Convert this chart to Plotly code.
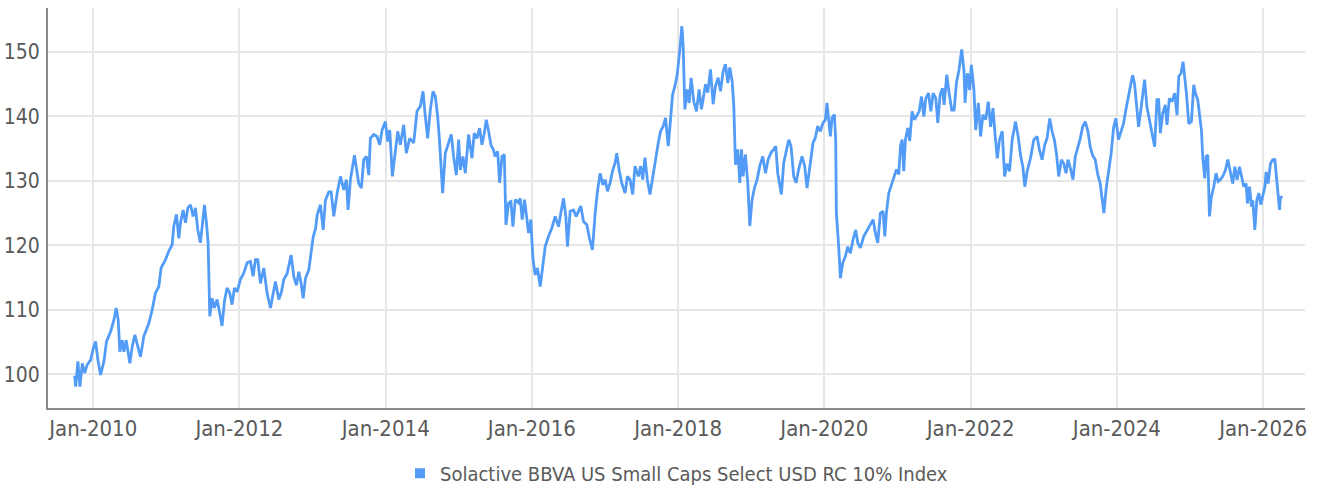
import plotly.graph_objects as go
from datetime import datetime, timedelta

# ---- Data (decimal year, index level) ----
t_2009_2012 = [2009.745, 2009.76, 2009.790, 2009.818, 2009.850, 2009.882, 2009.918, 2009.964, 2010.000, 2010.032,
               2010.064, 2010.100, 2010.146, 2010.182, 2010.237, 2010.282, 2010.314, 2010.342, 2010.364, 2010.396,
               2010.419, 2010.451, 2010.501, 2010.533, 2010.569, 2010.601, 2010.647, 2010.692, 2010.761, 2010.806,
               2010.852, 2010.897, 2010.929, 2010.989, 2011.034, 2011.080, 2011.103, 2011.139, 2011.171, 2011.194,
               2011.230, 2011.262, 2011.294, 2011.330, 2011.367, 2011.399, 2011.431, 2011.467, 2011.490, 2011.522,
               2011.549, 2011.572, 2011.595, 2011.626, 2011.658, 2011.695, 2011.731, 2011.763, 2011.795, 2011.831,
               2011.868, 2011.900, 2011.932, 2011.968, 2012.014, 2012.059, 2012.105, 2012.150, 2012.187, 2012.219,
               2012.251, 2012.287, 2012.333, 2012.378, 2012.424, 2012.460, 2012.492, 2012.538, 2012.574, 2012.606]
v_2009_2012 = [99.8, 98.1, 102.0, 98.1, 101.7, 100.2, 101.5, 102.2, 104.0, 105.1,
               102.2, 99.9, 102.0, 105.1, 106.6, 108.4, 110.3, 108.4, 103.5, 105.3,
               103.5, 105.3, 101.7, 104.3, 106.1, 104.6, 102.7, 105.9, 107.9, 110.0,
               112.6, 113.6, 116.5, 117.8, 119.1, 120.1, 123.0, 124.8, 121.1, 123.5,
               125.5, 123.5, 125.8, 126.3, 124.5, 125.8, 122.4, 120.4, 122.7, 126.3,
               123.5, 120.4, 109.0, 111.8, 110.3, 111.6, 109.5, 107.5, 111.3, 113.4,
               112.6, 110.8, 113.4, 112.8, 114.7, 115.7, 117.3, 117.5, 115.2, 117.8,
               117.8, 114.1, 116.5, 112.6, 110.3, 112.3, 114.4, 111.6, 112.8, 114.7]

t_2012_2015 = [2012.651, 2012.706, 2012.743, 2012.779, 2012.811, 2012.843, 2012.870, 2012.902, 2012.948, 2012.980,
               2013.007, 2013.039, 2013.062, 2013.107, 2013.144, 2013.175, 2013.221, 2013.253, 2013.289, 2013.335,
               2013.380, 2013.426, 2013.462, 2013.485, 2013.517, 2013.572, 2013.599, 2013.631, 2013.667, 2013.699,
               2013.736, 2013.768, 2013.790, 2013.836, 2013.882, 2013.918, 2013.950, 2013.995, 2014.027, 2014.055,
               2014.091, 2014.132, 2014.164, 2014.200, 2014.246, 2014.282, 2014.328, 2014.383, 2014.428, 2014.474,
               2014.510, 2014.542, 2014.574, 2014.610, 2014.647, 2014.679, 2014.711, 2014.738, 2014.779, 2014.815,
               2014.861, 2014.897, 2014.929, 2014.966, 2014.998, 2015.021, 2015.057, 2015.089, 2015.134, 2015.180,
               2015.212, 2015.248, 2015.285, 2015.317, 2015.349, 2015.376, 2015.408, 2015.440, 2015.476]
v_2012_2015 = [115.6, 118.5, 115.1, 113.8, 115.9, 114.1, 111.8, 114.9, 116.2, 119.0,
               121.3, 122.6, 124.7, 126.3, 122.4, 127.0, 128.3, 128.3, 124.5, 128.1,
               130.7, 128.6, 130.2, 125.5, 130.2, 134.0, 131.7, 129.6, 128.9, 133.3,
               133.8, 130.9, 136.6, 137.2, 136.9, 135.6, 137.9, 139.2, 136.1, 137.9,
               130.7, 134.8, 137.7, 135.6, 138.7, 134.3, 136.6, 135.9, 140.8, 141.6,
               143.9, 140.0, 136.6, 141.0, 143.9, 143.1, 140.0, 135.9, 128.1, 134.3,
               135.9, 137.2, 133.8, 130.9, 136.4, 131.7, 133.8, 131.2, 137.2, 133.5,
               137.4, 136.6, 138.2, 135.6, 137.4, 139.5, 137.7, 135.6, 134.8]

t_2015_2018 = [2015.495, 2015.532, 2015.559, 2015.591, 2015.623, 2015.645, 2015.682, 2015.714, 2015.741, 2015.773,
               2015.818, 2015.841, 2015.868, 2015.900, 2015.932, 2015.955, 2015.986, 2016.014, 2016.045, 2016.077,
               2016.114, 2016.150, 2016.182, 2016.227, 2016.273, 2016.318, 2016.364, 2016.395, 2016.432, 2016.464,
               2016.486, 2016.523, 2016.568, 2016.605, 2016.636, 2016.668, 2016.705, 2016.750, 2016.786, 2016.827,
               2016.864, 2016.895, 2016.932, 2016.968, 2017.000, 2017.032, 2017.068, 2017.105, 2017.136, 2017.159,
               2017.195, 2017.227, 2017.273, 2017.305, 2017.341, 2017.377, 2017.409, 2017.455, 2017.486, 2017.514,
               2017.545, 2017.577, 2017.614, 2017.659, 2017.695, 2017.727, 2017.759, 2017.795, 2017.827, 2017.864,
               2017.895, 2017.923, 2017.955, 2017.986, 2018.023, 2018.050, 2018.068, 2018.091, 2018.123, 2018.150,
               2018.177, 2018.214, 2018.250, 2018.286, 2018.318, 2018.364]
v_2015_2018 = [133.8, 134.6, 129.7, 133.8, 134.1, 123.2, 126.6, 126.8, 122.9, 127.1,
               126.6, 127.3, 124.0, 127.1, 124.5, 121.9, 124.0, 118.0, 115.4, 116.5,
               113.6, 117.3, 119.8, 121.4, 122.7, 124.5, 122.9, 125.0, 127.3, 124.5,
               119.8, 125.3, 125.5, 124.5, 125.3, 126.1, 123.7, 123.2, 121.1, 119.3,
               125.0, 128.4, 131.2, 129.4, 130.2, 128.4, 129.7, 131.7, 132.8, 134.3,
               131.5, 129.7, 128.1, 130.7, 130.2, 127.9, 132.3, 130.7, 132.3, 130.2,
               133.6, 130.2, 127.9, 131.2, 134.1, 135.9, 137.7, 138.5, 139.8, 135.4,
               139.5, 143.4, 144.7, 146.5, 150.4, 154.0, 150.9, 141.1, 144.2, 142.1,
               146.0, 142.3, 140.8, 144.2, 141.1, 144.7]

t_2018_2021 = [2018.374, 2018.405, 2018.442, 2018.478, 2018.510, 2018.547, 2018.579, 2018.615, 2018.647, 2018.679,
               2018.706, 2018.738, 2018.761, 2018.784, 2018.815, 2018.843, 2018.866, 2018.888, 2018.920, 2018.952,
               2018.980, 2019.011, 2019.043, 2019.080, 2019.116, 2019.157, 2019.194, 2019.230, 2019.271, 2019.308,
               2019.335, 2019.362, 2019.390, 2019.412, 2019.444, 2019.481, 2019.513, 2019.544, 2019.581, 2019.613,
               2019.649, 2019.695, 2019.731, 2019.763, 2019.800, 2019.845, 2019.877, 2019.909, 2019.945, 2019.982,
               2020.014, 2020.036, 2020.059, 2020.082, 2020.105, 2020.137, 2020.155, 2020.164, 2020.196, 2020.219,
               2020.251, 2020.287, 2020.319, 2020.355, 2020.392, 2020.428, 2020.456, 2020.492, 2020.538, 2020.583,
               2020.629, 2020.665, 2020.697, 2020.729, 2020.765, 2020.802, 2020.825, 2020.847, 2020.879, 2020.911,
               2020.948, 2020.984, 2021.016, 2021.039, 2021.062, 2021.084, 2021.107, 2021.139, 2021.166, 2021.198,
               2021.230]
v_2018_2021 = [145.0, 143.7, 147.3, 141.9, 144.7, 146.0, 143.9, 147.0, 148.1, 145.2,
               147.6, 145.5, 141.6, 132.5, 134.9, 129.7, 134.9, 130.7, 134.1, 129.7,
               123.0, 127.1, 128.9, 130.2, 132.3, 133.8, 131.2, 133.3, 134.4, 134.9,
               135.4, 131.2, 129.2, 127.9, 132.8, 134.9, 136.4, 135.4, 130.7, 129.7,
               131.8, 133.8, 132.3, 128.9, 132.3, 135.9, 136.7, 138.5, 137.7, 139.0,
               139.5, 142.1, 139.5, 136.9, 139.8, 140.3, 136.4, 125.0, 119.8, 114.9,
               117.3, 118.3, 119.8, 118.8, 120.9, 122.4, 120.4, 119.6, 121.4, 122.4,
               123.2, 124.0, 121.9, 120.4, 125.0, 125.3, 121.4, 125.0, 128.1, 129.2,
               130.5, 131.8, 131.0, 135.4, 136.4, 131.5, 136.4, 138.2, 136.2, 140.8,
               139.5]

t_2021_2024 = [2021.259, 2021.295, 2021.327, 2021.359, 2021.386, 2021.423, 2021.455, 2021.486, 2021.523, 2021.550,
               2021.582, 2021.614, 2021.636, 2021.673, 2021.705, 2021.741, 2021.773, 2021.805, 2021.841, 2021.877,
               2021.909, 2021.923, 2021.955, 2021.986, 2022.009, 2022.045, 2022.068, 2022.105, 2022.136, 2022.168,
               2022.205, 2022.241, 2022.273, 2022.305, 2022.332, 2022.364, 2022.395, 2022.432, 2022.464, 2022.500,
               2022.532, 2022.568, 2022.614, 2022.650, 2022.682, 2022.714, 2022.741, 2022.773, 2022.818, 2022.864,
               2022.909, 2022.941, 2022.977, 2023.014, 2023.045, 2023.082, 2023.114, 2023.145, 2023.173, 2023.205,
               2023.241, 2023.273, 2023.305, 2023.332, 2023.364, 2023.400, 2023.432, 2023.468, 2023.500, 2023.532,
               2023.568, 2023.605, 2023.636, 2023.668, 2023.705, 2023.741, 2023.773, 2023.795, 2023.823, 2023.855,
               2023.886, 2023.923, 2023.955, 2023.986, 2024.023]
v_2021_2024 = [140.0, 140.8, 143.1, 140.0, 142.8, 143.6, 140.8, 143.6, 142.8, 139.0,
               143.4, 144.4, 141.8, 146.5, 143.6, 141.0, 141.0, 145.2, 147.3, 150.4,
               147.0, 142.1, 146.7, 144.1, 148.0, 144.1, 137.9, 142.1, 136.9, 140.3,
               139.5, 142.3, 138.4, 141.3, 137.4, 133.5, 136.4, 137.7, 130.7, 132.7,
               131.5, 136.4, 139.2, 136.9, 134.0, 132.2, 129.1, 131.5, 133.5, 136.4,
               136.9, 134.8, 133.3, 135.6, 136.6, 139.7, 137.7, 136.4, 134.3, 130.7,
               133.3, 132.7, 131.2, 133.3, 132.0, 130.2, 133.8, 135.3, 136.6, 138.4,
               139.2, 137.7, 135.3, 134.0, 133.3, 130.9, 129.6, 127.6, 125.0, 128.9,
               131.7, 134.3, 138.2, 139.7, 136.4]

t_2024_2026 = [2024.059, 2024.091, 2024.123, 2024.160, 2024.192, 2024.215, 2024.242, 2024.260, 2024.297, 2024.333,
               2024.356, 2024.379, 2024.411, 2024.443, 2024.479, 2024.516, 2024.548, 2024.571, 2024.594, 2024.626,
               2024.662, 2024.685, 2024.717, 2024.753, 2024.790, 2024.822, 2024.845, 2024.877, 2024.904, 2024.927,
               2024.950, 2024.982, 2025.018, 2025.050, 2025.073, 2025.105, 2025.128, 2025.155, 2025.174, 2025.201,
               2025.219, 2025.242, 2025.265, 2025.292, 2025.324, 2025.356, 2025.384, 2025.416, 2025.447, 2025.484,
               2025.516, 2025.553, 2025.584, 2025.612, 2025.644, 2025.676, 2025.703, 2025.735, 2025.767, 2025.785,
               2025.813, 2025.840, 2025.858, 2025.886, 2025.913, 2025.941, 2025.968, 2025.995, 2026.023, 2026.041,
               2026.068, 2026.100, 2026.132, 2026.160, 2026.178, 2026.201, 2026.224, 2026.237, 2026.260]
v_2024_2026 = [137.9, 138.9, 141.0, 143.1, 144.6, 146.4, 145.1, 143.1, 138.4, 141.5,
               144.1, 145.7, 141.5, 139.5, 137.4, 135.3, 142.6, 142.6, 137.4, 140.5,
               141.8, 138.7, 142.8, 142.3, 143.6, 140.2, 146.2, 146.7, 148.5, 146.2,
               143.6, 138.9, 139.2, 144.9, 143.6, 142.6, 140.0, 137.9, 133.5, 130.4,
               133.8, 134.0, 124.5, 127.6, 129.1, 131.2, 129.9, 130.2, 130.7, 131.7,
               133.3, 131.2, 129.6, 132.2, 130.2, 132.2, 130.7, 129.1, 129.6, 126.5,
               129.1, 126.0, 127.0, 122.4, 127.0, 128.1, 126.3, 127.6, 129.1, 131.4,
               129.6, 132.7, 133.3, 133.3, 131.2, 128.1, 125.5, 127.6, 127.3]

series_name = "Solactive BBVA US Small Caps Select USD RC 10% Index"
y_ticks = [100, 110, 120, 130, 140, 150]


def year_to_date(t):
    y = int(t)
    start = datetime(y, 1, 1)
    days = (datetime(y + 1, 1, 1) - start).days
    return start + timedelta(days=(t - y) * days)


years = t_2009_2012 + t_2012_2015 + t_2015_2018 + t_2018_2021 + t_2021_2024 + t_2024_2026
values = v_2009_2012 + v_2012_2015 + v_2015_2018 + v_2018_2021 + v_2021_2024 + v_2024_2026
dates = [year_to_date(t) for t in years]

LINE = "#529cf7"
FONT = "'Liberation Sans Narrow', 'Arial Narrow', 'DejaVu Sans Condensed', 'Roboto', sans-serif"
TEXT = "#5a5a5a"

fig = go.Figure()
fig.add_trace(go.Scatter(x=dates, y=values, mode="lines", name=series_name,
                         line=dict(color=LINE, width=2.8), showlegend=False))
fig.add_trace(go.Scatter(x=[None], y=[None], mode="markers", name=series_name,
                         marker=dict(symbol="square", size=10, color=LINE)))

fig.update_layout(
    width=1319, height=490,
    margin=dict(l=48, r=14, t=8, b=82, autoexpand=False),
    paper_bgcolor="white", plot_bgcolor="white",
    font=dict(family=FONT, size=22, color=TEXT),
    legend=dict(orientation="h", x=0.5, xanchor="center", y=-0.163, yanchor="middle",
                font=dict(family=FONT, size=20, color=TEXT), itemwidth=30),
    xaxis=dict(
        type="date", automargin=False,
        range=["2009-05-20", "2026-07-29"],
        tick0="2010-01-01", dtick="M24", tickformat="%b-%Y",
        showgrid=True, gridcolor="#e6e6e6", gridwidth=2,
        showline=True, linecolor="#8a8a8a", linewidth=2,
        ticks="", zeroline=False,
    ),
    yaxis=dict(
        automargin=False,
        range=[94.77, 156.83],
        tickvals=y_ticks,
        tickfont=dict(size=21),
        ticklabelstandoff=2,
        showgrid=True, gridcolor="#e6e6e6", gridwidth=2,
        showline=True, linecolor="#8a8a8a", linewidth=2,
        ticks="", zeroline=False,
    ),
)

# remove the browser's default body margin so the 1319x490 figure fills the window exactly
fig.write_html("out.html", config={"displayModeBar": False},
               post_script="document.body.style.margin='0';document.body.style.overflow='hidden';")
